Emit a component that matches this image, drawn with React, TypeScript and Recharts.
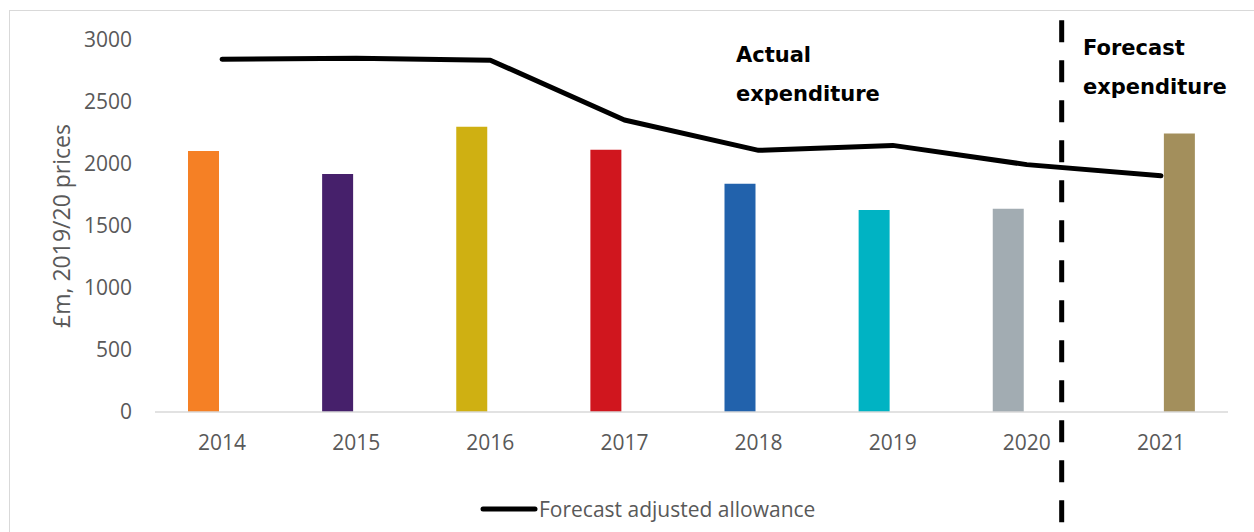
import { Bar, Cell, ComposedChart, Label, Legend, Line, ReferenceLine, XAxis, YAxis } from "recharts"

const years = ["2014", "2015", "2016", "2017", "2018", "2019", "2020", "2021"]
const actualSpend = [2105, 1920, 2300, 2115, 1840, 1630, 1640, null]
const forecastSpend = [null, null, null, null, null, null, null, 2245]
const allowance = [2845, 2853, 2837, 2355, 2110, 2150, 1995, 1905]
const barColors = ["#f58025", "#46206b", "#cfb012", "#d0161e", "#2262ac", "#00b3c3", "#a2acb2", "#a38f5c"]
const yTicks = [0, 500, 1000, 1500, 2000, 2500, 3000]

// split between actual and forecast years, on a 0..8 slot scale
const splitAt = 6.76

const data = years.map((year, i) => ({
  year,
  slot: i + 0.5,
  actual: actualSpend[i],
  forecast: forecastSpend[i],
  allowance: allowance[i],
}))

const font = "'Open Sans', 'Noto Sans', sans-serif"
const grey = "#595959"

function AllowanceLegend() {
  return (
    <div style={{ display: "flex", alignItems: "center", paddingLeft: 480, height: 38, fontFamily: font, fontSize: 21, color: grey }}>
      <svg width={58} height={10}>
        <line x1={3} y1={5} x2={55} y2={5} stroke="#000" strokeWidth={5} strokeLinecap="round" />
      </svg>
      <span style={{ marginLeft: 1 }}>Forecast adjusted allowance</span>
    </div>
  )
}

const noteStyle = {
  position: "absolute" as const,
  fontFamily: "'DejaVu Sans', Verdana, sans-serif",
  fontWeight: 700,
  fontSize: 21,
  lineHeight: "39px",
  color: "#000",
}

export default function App() {
  return (
    <div style={{ position: "absolute", left: 0, top: 0, width: 1254, height: 532, overflow: "hidden", background: "#fff" }}>
      <div style={{ position: "absolute", left: 9, top: 10, width: 1300, height: 560, border: "1px solid #d9d9d9" }} />
      <ComposedChart
        width={1254}
        height={532}
        data={data}
        margin={{ top: 40, right: 26, bottom: 4, left: 50 }}
        barGap={6}
        style={{ position: "absolute", left: 0, top: 0 }}
      >
        <XAxis
          dataKey="year"
          height={78}
          tickLine={false}
          tickSize={0}
          tickMargin={23}
          axisLine={{ stroke: "#d9d9d9", strokeWidth: 1.5 }}
          tick={{ fill: grey, fontSize: 21, fontFamily: font }}
        />
        <XAxis xAxisId="pos" dataKey="slot" type="number" domain={[0, 8]} allowDataOverflow hide />
        <YAxis
          width={105}
          domain={[0, 3000]}
          ticks={yTicks}
          tickLine={false}
          tickSize={0}
          tickMargin={23}
          axisLine={false}
          tick={{ fill: grey, fontSize: 21, fontFamily: font }}
        >
          <Label
            value="£m, 2019/20 prices"
            angle={-90}
            position="insideLeft"
            offset={12}
            style={{ textAnchor: "middle", fill: grey, fontSize: 23, fontFamily: font }}
          />
        </YAxis>
        <Legend verticalAlign="bottom" content={<AllowanceLegend />} wrapperStyle={{ left: 0, width: 1254 }} />
        <Bar dataKey="actual" barSize={31} isAnimationActive={false} legendType="none">
          {years.map((y, i) => (
            <Cell key={y} fill={barColors[i]} />
          ))}
        </Bar>
        <Bar dataKey="forecast" barSize={31} isAnimationActive={false} legendType="none">
          {years.map((y, i) => (
            <Cell key={y} fill={barColors[i]} />
          ))}
        </Bar>
        <Line
          dataKey="allowance"
          type="linear"
          stroke="#000"
          strokeWidth={5}
          strokeLinecap="round"
          strokeLinejoin="round"
          dot={false}
          activeDot={false}
          isAnimationActive={false}
        />
        <ReferenceLine
          xAxisId="pos"
          segment={[
            { x: splitAt, y: 3160 },
            { x: splitAt, y: -915 },
          ]}
          ifOverflow="visible"
          stroke="#000"
          strokeWidth={5}
          strokeDasharray="22 18"
        />
      </ComposedChart>
      <div style={{ ...noteStyle, left: 736, top: 36 }}>
        Actual
        <br />
        expenditure
      </div>
      <div style={{ ...noteStyle, left: 1083, top: 29 }}>
        Forecast
        <br />
        expenditure
      </div>
    </div>
  )
}
